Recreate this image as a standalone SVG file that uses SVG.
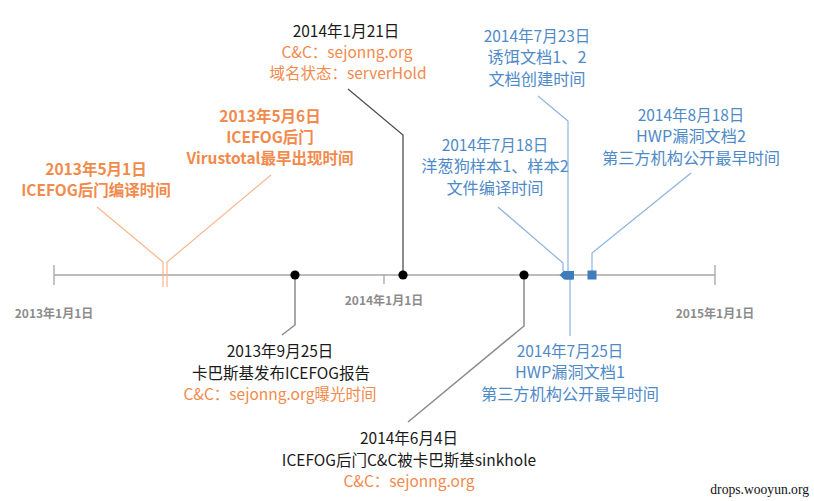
<svg xmlns="http://www.w3.org/2000/svg" width="814" height="501" viewBox="0 0 814 501">
<style>
text{font-family:"Noto Sans CJK SC","Noto Sans",sans-serif;text-anchor:middle}
.k{fill:#1a1a1a;font-size:15.5px}
.o{fill:#f28a4c;font-size:15.5px}
.ob{fill:#f28a4c;font-size:15.5px;font-weight:bold}
.b{fill:#4f8ac8;font-size:16.2px}
.bd{fill:#4f8ac8;font-size:15.5px}
.ax{fill:#8c8c8c;font-size:12px;font-weight:bold}
.wm{font-family:"Liberation Serif",serif;font-size:13.6px;fill:#111;text-anchor:end}
.axis{stroke:#a6a6a6;stroke-width:1.3;fill:none}
.cg{stroke:#8a8a8a;stroke-width:1.5;fill:none}
.cd{stroke:#505050;stroke-width:1.3;fill:none}
.co{stroke:#f9b68c;stroke-width:1.2;fill:none}
.cb{stroke:#8cb4df;stroke-width:1.2;fill:none}
.dot{fill:#000}
.bm{fill:#3f7dba}
</style>
<rect width="814" height="501" fill="#fff"/>
<g id="axis">
<path class="axis" d="M54 275H715M54 265V285M715 265V285M384 275V284"/>
<text class="ax" x="54" y="318">2013年1月1日</text>
<text class="ax" x="384" y="305">2014年1月1日</text>
<text class="ax" x="715" y="318">2015年1月1日</text>
</g>
<g id="connectors">
<path class="co" d="M163 287V262L97 207"/>
<path class="co" d="M167 287V262L271 175"/>
<path class="cg" d="M295 275V325L282 335"/>
<path class="cd" d="M403 275V135L348 89"/>
<path class="cg" d="M524 275V326L408 422"/>
<path class="cb" d="M563 271V263L498 207"/>
<path class="cb" d="M568 271V121L538 96"/>
<path class="cb" d="M570 279V336"/>
<path class="cb" d="M592 271V253L691 173"/>
</g>
<g id="e20130501">
<text class="ob" x="96" y="175">2013年5月1日</text>
<text class="ob" x="96" y="196">ICEFOG后门编译时间</text>
</g>
<g id="e20130506">
<text class="ob" x="270" y="122">2013年5月6日</text>
<text class="ob" x="270" y="143">ICEFOG后门</text>
<text class="ob" x="270" y="164">Virustotal最早出现时间</text>
</g>
<g id="e20130925">
<circle class="dot" cx="295" cy="275" r="4.6"/>
<text class="k" x="280" y="357">2013年9月25日</text>
<text class="k" x="281" y="379">卡巴斯基发布ICEFOG报告</text>
<text class="o" x="280" y="400">C&amp;C：sejonng.org曝光时间</text>
</g>
<g id="e20140121">
<circle class="dot" cx="403" cy="275" r="4.6"/>
<text class="k" x="346" y="37">2014年1月21日</text>
<text class="o" x="347" y="58">C&amp;C：sejonng.org</text>
<text class="o" x="348" y="79">域名状态：serverHold</text>
</g>
<g id="e20140604">
<circle class="dot" cx="524" cy="275" r="4.6"/>
<text class="k" x="409" y="444">2014年6月4日</text>
<text class="k" x="409" y="466">ICEFOG后门C&amp;C被卡巴斯基sinkhole</text>
<text class="o" x="409" y="487">C&amp;C：sejonng.org</text>
</g>
<g id="e20140718">
<path class="bm" d="M559.5 275L564 270.5L568.5 275L564 279.5Z"/>
<text class="bd" x="495" y="151">2014年7月18日</text>
<text class="b" x="495" y="172">洋葱狗样本1、样本2</text>
<text class="b" x="495" y="194">文件编译时间</text>
</g>
<g id="e20140723">
<rect class="bm" x="564" y="271" width="8.5" height="8.5"/>
<text class="bd" x="537" y="42">2014年7月23日</text>
<text class="b" x="537" y="63">诱饵文档1、2</text>
<text class="b" x="537" y="85">文档创建时间</text>
</g>
<g id="e20140725">
<rect class="bm" x="565.5" y="271" width="8.5" height="8.5"/>
<text class="bd" x="570" y="357">2014年7月25日</text>
<text class="b" x="570" y="378">HWP漏洞文档1</text>
<text class="b" x="570" y="400">第三方机构公开最早时间</text>
</g>
<g id="e20140818">
<rect class="bm" x="587.5" y="270.5" width="9" height="9"/>
<text class="bd" x="691" y="121">2014年8月18日</text>
<text class="b" x="691" y="142">HWP漏洞文档2</text>
<text class="b" x="691" y="164">第三方机构公开最早时间</text>
</g>
<text class="wm" x="809" y="494">drops.wooyun.org</text>
</svg>
